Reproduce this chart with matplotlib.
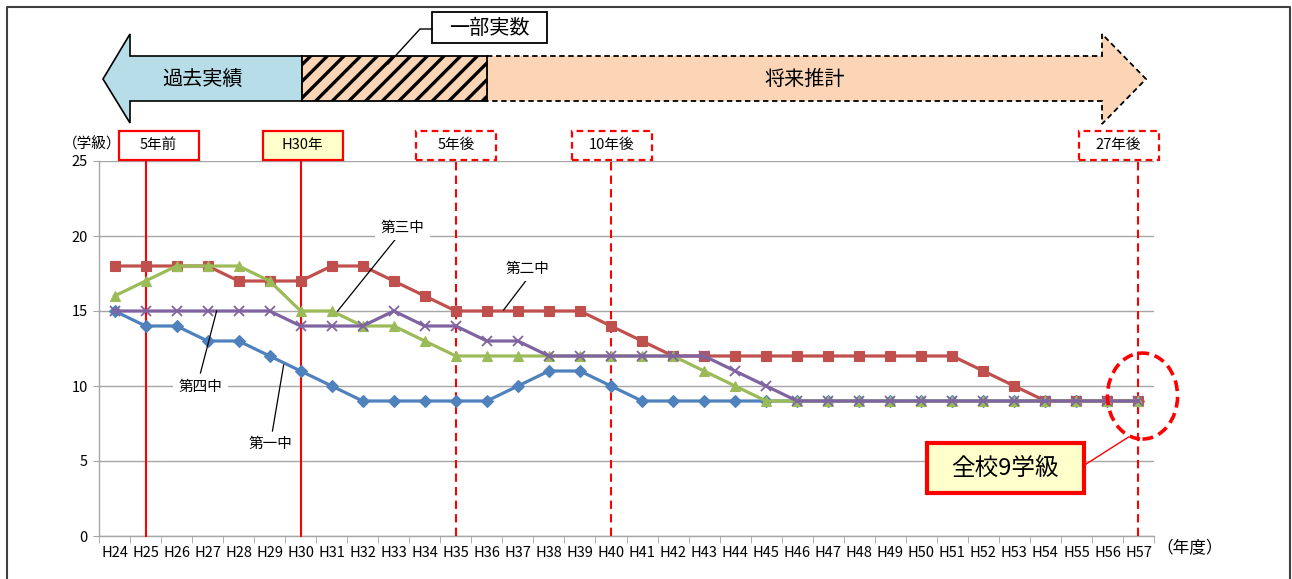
import matplotlib
matplotlib.use("Agg")
import matplotlib.pyplot as plt
from matplotlib.patches import Polygon, Rectangle, Ellipse

plt.rcParams['font.family'] = ['Noto Sans CJK JP', 'DejaVu Sans']
plt.rcParams['hatch.linewidth'] = 2.4

# Fiscal years (Heisei)
years = ["H24", "H25", "H26", "H27", "H28", "H29", "H30", "H31", "H32", "H33",
         "H34", "H35", "H36", "H37", "H38", "H39", "H40", "H41", "H42", "H43",
         "H44", "H45", "H46", "H47", "H48", "H49", "H50", "H51", "H52", "H53",
         "H54", "H55", "H56", "H57"]

# Number of classes per school
daiichi = [15, 14, 14, 13, 13, 12, 11, 10, 9, 9, 9, 9, 9, 10, 11, 11, 10, 9,
           9, 9, 9, 9, 9, 9, 9, 9, 9, 9, 9, 9, 9, 9, 9, 9]
daini = [18, 18, 18, 18, 17, 17, 17, 18, 18, 17, 16, 15, 15, 15, 15, 15, 14, 13,
         12, 12, 12, 12, 12, 12, 12, 12, 12, 12, 11, 10, 9, 9, 9, 9]
daisan = [16, 17, 18, 18, 18, 17, 15, 15, 14, 14, 13, 12, 12, 12, 12, 12, 12, 12,
          12, 11, 10, 9, 9, 9, 9, 9, 9, 9, 9, 9, 9, 9, 9, 9]
daiyon = [15, 15, 15, 15, 15, 15, 14, 14, 14, 15, 14, 14, 13, 13, 12, 12, 12, 12,
          12, 12, 11, 10, 9, 9, 9, 9, 9, 9, 9, 9, 9, 9, 9, 9]

school_names = ["第一中", "第二中", "第三中", "第四中"]

# Reference years marked with vertical lines
mark_years = ["H25", "H30", "H35", "H40", "H57"]
mark_labels = ["5年前", "H30年", "5年後", "10年後", "27年後"]

W, H = 1292, 579
fig = plt.figure(figsize=(W / 100, H / 100), dpi=100)
ax = fig.add_axes([99 / W, 1 - 536 / H, 1055 / W, 375 / H])

x = list(range(len(years)))
series = [
    (daiichi, '#4F81BD', 'D', 6.0),
    (daini, '#C0504D', 's', 7.0),
    (daisan, '#9BBB59', '^', 7.5),
    (daiyon, '#8064A2', 'x', 7.0),
]
for i, (vals, col, mk, ms) in enumerate(series):
    ax.plot(x, vals, color=col, lw=2.3, marker=mk, markersize=ms,
            markerfacecolor=col, markeredgecolor=col,
            markeredgewidth=1.3 if mk == 'x' else 0.8, zorder=4 + i,
            label=school_names[i])

ax.set_xlim(-0.5, len(years) - 0.5)
ax.set_ylim(0, 25)
ax.set_yticks(range(0, 26, 5))
ax.set_xticks(x)
ax.set_xticklabels(years)
ax.set_xticks([i - 0.5 for i in range(len(years) + 1)], minor=True)
ax.tick_params(axis='x', which='major', length=0, pad=7, labelsize=10.5)
ax.tick_params(axis='x', which='minor', length=5, color='#A6A6A6')
ax.tick_params(axis='y', length=4, color='#A6A6A6', labelsize=10.5, pad=4)
ax.grid(axis='y', color='#A6A6A6', lw=1.0, zorder=1)
ax.set_axisbelow(True)
for s in ['top', 'right']:
    ax.spines[s].set_visible(False)
for s in ['left', 'bottom']:
    ax.spines[s].set_color('#A6A6A6')
    ax.spines[s].set_linewidth(1.0)

# Vertical reference lines with label boxes above the plot
box_left = [-0.87, -1.23, -1.27, -1.27, -1.93]
box_w = 2.58
box_y0, box_y1 = 25.07, 27.0
for k, (yr, lab) in enumerate(zip(mark_years, mark_labels)):
    xi = years.index(yr)
    past = k < 2
    ls = '-' if past else (0, (4, 2.5))
    ax.plot([xi, xi], [0, box_y0], color='#FF0000', lw=1.5, ls=ls,
            clip_on=False, zorder=3)
    face = '#FFFFCC' if yr == "H30" else 'white'
    ax.add_patch(Rectangle((xi + box_left[k], box_y0), box_w, box_y1 - box_y0,
                           facecolor=face, edgecolor='#FF0000', lw=1.6,
                           ls='-' if past else (0, (3, 2)), clip_on=False,
                           zorder=6))
    ax.text(xi + box_left[k] + box_w / 2, (box_y0 + box_y1) / 2, lab,
            ha='center', va='center', fontsize=10.5, zorder=7, clip_on=False)

# School name labels with leader lines
bbox_w = dict(boxstyle='square,pad=0.35', facecolor='white', edgecolor='none')
name_pos = [(5.03, 6.13), (13.31, 17.8), (9.28, 20.53), (2.77, 9.93)]
leaders = [((5.09, 7.0), (5.45, 11.4)),
           ((13.25, 17.0), (12.54, 15.07)),
           ((9.06, 19.8), (7.19, 15.0)),
           ((2.77, 10.87), (3.29, 15.0))]
for name, (tx, ty), ((ax0, ay0), (ax1, ay1)) in zip(school_names, name_pos, leaders):
    ax.plot([ax0, ax1], [ay0, ay1], color='black', lw=0.9, zorder=8)
    ax.text(tx, ty, name, ha='center', va='center', fontsize=10.5,
            bbox=bbox_w, zorder=9)

# Final-year highlight
ax.add_patch(Ellipse((33.13, 9.33), 2.26, 5.73, facecolor='none',
                     edgecolor='#FF0000', lw=2.6, ls=(0, (3, 1.6)),
                     clip_on=False, zorder=10))
ax.plot([31.26, 32.68], [4.73, 6.6], color='#FF0000', lw=1.0, zorder=10)
ax.add_patch(Rectangle((26.2, 2.87), 5.03, 3.33, facecolor='#FFFFCC',
                       edgecolor='#FF0000', lw=3.0, zorder=11))
ax.text(28.71, 4.53, "全校9学級", ha='center', va='center', fontsize=17,
        zorder=12)

# Overlay in pixel coordinates for the timeline arrows and frame
ov = fig.add_axes([0, 0, 1, 1], zorder=5)
ov.set_xlim(0, W)
ov.set_ylim(H, 0)
ov.axis('off')
ov.patch.set_alpha(0)

ov.plot([7, 7, 1290, 1290], [H, 7, 7, H], color='#404040', lw=1.5)

past_arrow = Polygon([(302, 56), (130, 56), (130, 34), (103, 79),
                      (130, 123), (130, 101), (302, 101)], closed=True,
                     facecolor='#B7DDE8', edgecolor='black', lw=1.2)
ov.add_patch(past_arrow)
future_arrow = Polygon([(487, 56), (1102, 56), (1102, 34), (1146, 79),
                        (1102, 124), (1102, 101), (487, 101)], closed=True,
                       facecolor='#FBD5B5', edgecolor='black', lw=1.3,
                       ls=(0, (3, 2)))
ov.add_patch(future_arrow)
ov.add_patch(Rectangle((302, 56), 185, 45, facecolor='#FBD5B5',
                       edgecolor='black', hatch='//', lw=1.3))
ov.text(203, 79, "過去実績", ha='center', va='center', fontsize=14.5)
ov.text(805, 79, "将来推計", ha='center', va='center', fontsize=14.5)

ov.plot([432, 420, 388], [29, 29, 64], color='black', lw=1.0)
ov.add_patch(Rectangle((432, 12), 115, 31, facecolor='white',
                       edgecolor='black', lw=1.3))
ov.text(489.5, 28, "一部実数", ha='center', va='center', fontsize=14.5)

ov.text(92, 144, "（学級）", ha='center', va='center', fontsize=10.5)
ov.text(1190, 549, "（年度）", ha='center', va='center', fontsize=12)

fig.savefig("out.png", dpi=100)
